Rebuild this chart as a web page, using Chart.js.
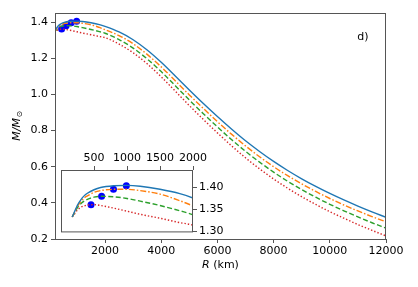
<!DOCTYPE html>
<html>
<head>
<meta charset="utf-8">
<script src="https://cdn.jsdelivr.net/npm/chart.js@4.4.1/dist/chart.umd.min.js"></script>
<style>
  html, body { margin: 0; padding: 0; background: #fff; }
  #wrap { position: relative; width: 418px; height: 287px; }
  #main { position: absolute; left: 0; top: 0; }
  #inset { position: absolute; left: 40px; top: 145px; }
</style>
</head>
<body>
<div id="wrap">
  <canvas id="main" width="418" height="287"></canvas>
  <canvas id="inset" width="200" height="95"></canvas>
</div>
<script>
// radius in km
const radius = [170, 200, 250, 300, 350, 400, 500, 600, 800, 1000, 1200, 1500, 1800, 2000,
  2500, 3000, 3500, 4000, 4500, 5000, 5500, 6000, 6500, 7000, 7500, 8000, 8500, 9000,
  9500, 10000, 10500, 11000, 11500, 12000];

// mass in solar masses, one list per curve
const massSolid = [1.333, 1.343, 1.360, 1.372, 1.381, 1.387, 1.395, 1.400, 1.404, 1.405, 1.403, 1.396, 1.386, 1.376,
  1.345, 1.302, 1.245, 1.177, 1.101, 1.024, 0.949, 0.877, 0.808, 0.743, 0.684, 0.629, 0.579, 0.533,
  0.491, 0.452, 0.416, 0.382, 0.350, 0.320];
const massDashDot = [1.333, 1.342, 1.357, 1.368, 1.376, 1.381, 1.389, 1.393, 1.396, 1.396, 1.393, 1.385, 1.370, 1.358,
  1.325, 1.280, 1.221, 1.152, 1.075, 0.997, 0.922, 0.849, 0.780, 0.715, 0.655, 0.600, 0.550, 0.505,
  0.463, 0.424, 0.388, 0.355, 0.324, 0.295];
const massDashed = [1.333, 1.341, 1.354, 1.363, 1.369, 1.373, 1.378, 1.380, 1.379, 1.375, 1.369, 1.359, 1.347, 1.338,
  1.303, 1.256, 1.196, 1.126, 1.048, 0.969, 0.893, 0.820, 0.750, 0.685, 0.625, 0.570, 0.519, 0.473,
  0.431, 0.392, 0.356, 0.322, 0.290, 0.260];
const massDotted = [1.333, 1.339, 1.349, 1.355, 1.358, 1.360, 1.361, 1.359, 1.353, 1.346, 1.339, 1.330, 1.320, 1.314,
  1.278, 1.230, 1.169, 1.097, 1.018, 0.938, 0.861, 0.787, 0.716, 0.649, 0.588, 0.532, 0.481, 0.434,
  0.391, 0.351, 0.315, 0.280, 0.248, 0.217];

// maximum-mass markers
const peakRadius = [455, 615, 795, 990];
const peakMass = [1.361, 1.380, 1.396, 1.404];

const mainXTicks = [2000, 4000, 6000, 8000, 10000, 12000];
const mainYTicks = [0.2, 0.4, 0.6, 0.8, 1.0, 1.2, 1.4];
const insetXTicks = [500, 1000, 1500, 2000];
const insetYTicks = [1.30, 1.35, 1.40];

Chart.defaults.font.family = "'DejaVu Sans', sans-serif";
Chart.defaults.font.size = 11;
Chart.defaults.color = '#000';

const frameColor = '#555';

function pts(ys) {
  return radius.map((r, i) => ({ x: r, y: ys[i] }));
}

function makeDatasets(dotRadius) {
  return [
    { data: pts(massSolid), borderColor: '#1f77b4', borderWidth: 1.4 },
    { data: pts(massDashDot), borderColor: '#ff7f0e', borderWidth: 1.4, borderDash: [6, 2, 1.5, 2] },
    { data: pts(massDashed), borderColor: '#2ca02c', borderWidth: 1.4, borderDash: [5, 2.5] },
    { data: pts(massDotted), borderColor: '#d62728', borderWidth: 1.4, borderDash: [1.4, 2] },
    {
      data: peakRadius.map((r, i) => ({ x: r, y: peakMass[i] })),
      showLine: false, pointRadius: dotRadius, pointBackgroundColor: '#0000ff',
      pointBorderWidth: 0, borderColor: '#0000ff', clip: false
    }
  ].map(d => Object.assign({
    type: 'line', pointRadius: 0, fill: false,
    cubicInterpolationMode: 'monotone', clip: 0
  }, d));
}

function fixedTicks(list) {
  return function(scale) { scale.ticks = list.map(v => ({ value: v })); };
}

// box around plot area, white background for the inset
const framePlugin = {
  id: 'frame',
  beforeDraw(chart, args, opts) {
    if (opts.fillWhite) {
      const a = chart.chartArea;
      chart.ctx.save();
      chart.ctx.fillStyle = '#fff';
      chart.ctx.fillRect(a.left, a.top, a.right - a.left, a.bottom - a.top);
      chart.ctx.restore();
    }
  },
  afterDraw(chart) {
    const a = chart.chartArea, ctx = chart.ctx;
    ctx.save();
    ctx.strokeStyle = frameColor;
    ctx.lineWidth = 1;
    ctx.strokeRect(a.left + 0.5, a.top + 0.5, a.right - a.left - 1, a.bottom - a.top);
    ctx.restore();
  }
};

// axis titles with italic symbols, plus panel label
const labelPlugin = {
  id: 'labels',
  afterDraw(chart) {
    const ctx = chart.ctx, a = chart.chartArea;
    ctx.save();
    ctx.fillStyle = '#000';
    ctx.textBaseline = 'middle';
    // x title
    ctx.font = "italic 11px 'DejaVu Sans'";
    const wR = ctx.measureText('R').width;
    ctx.font = "11px 'DejaVu Sans'";
    const wKm = ctx.measureText(' (km)').width;
    let x0 = (a.left + a.right) / 2 - (wR + wKm) / 2;
    ctx.textAlign = 'left';
    ctx.font = "italic 11px 'DejaVu Sans'";
    ctx.fillText('R', x0, 265);
    ctx.font = "11px 'DejaVu Sans'";
    ctx.fillText(' (km)', x0 + wR, 265);
    // y title
    ctx.translate(17, (a.top + a.bottom) / 2);
    ctx.rotate(-Math.PI / 2);
    ctx.font = "italic 11px 'DejaVu Sans'";
    const wM = ctx.measureText('M/M').width;
    ctx.font = "8px 'DejaVu Sans'";
    const wSun = ctx.measureText('\u2299').width;
    x0 = -(wM + wSun) / 2;
    ctx.font = "italic 11px 'DejaVu Sans'";
    ctx.fillText('M/M', x0, 0);
    ctx.font = "8px 'DejaVu Sans'";
    ctx.fillText('\u2299', x0 + wM + 0.5, 3);
    ctx.restore();
    // panel label
    ctx.save();
    ctx.font = "11px 'DejaVu Sans'";
    ctx.textAlign = 'center';
    ctx.textBaseline = 'middle';
    ctx.fillStyle = '#000';
    ctx.fillText('d)', 363, 37);
    ctx.restore();
  }
};

const tickGrid = { drawOnChartArea: false, drawTicks: true, tickLength: 4, color: frameColor };

new Chart(document.getElementById('main'), {
  type: 'line',
  data: { datasets: makeDatasets(3.5) },
  options: {
    responsive: false,
    animation: false,
    events: [],
    layout: { padding: { left: 0, right: 32, top: 13, bottom: 0 } },
    plugins: { legend: { display: false }, tooltip: { enabled: false }, frame: { fillWhite: false } },
    scales: {
      x: {
        type: 'linear', min: 220, max: 12000,
        afterBuildTicks: fixedTicks(mainXTicks),
        afterFit(s) { s.height = 48; },
        grid: tickGrid, border: { display: false },
        ticks: { padding: 2, maxRotation: 0, callback: v => String(v) }
      },
      y: {
        type: 'linear', min: 0.2, max: 1.45,
        afterBuildTicks: fixedTicks(mainYTicks),
        afterFit(s) { s.width = 55; },
        grid: tickGrid, border: { display: false },
        ticks: { padding: 3, callback: v => v.toFixed(1) }
      }
    }
  },
  plugins: [framePlugin, labelPlugin]
});

new Chart(document.getElementById('inset'), {
  type: 'line',
  data: { datasets: makeDatasets(3.5) },
  options: {
    responsive: false,
    animation: false,
    events: [],
    layout: { padding: { left: 21, right: 0, top: 0, bottom: 8 } },
    plugins: { legend: { display: false }, tooltip: { enabled: false }, frame: { fillWhite: true } },
    scales: {
      x: {
        type: 'linear', position: 'top', min: 0, max: 2000,
        afterBuildTicks: fixedTicks(insetXTicks),
        afterFit(s) { s.height = 25; },
        grid: tickGrid, border: { display: false },
        ticks: { padding: 1, maxRotation: 0, callback: v => String(v) }
      },
      y: {
        type: 'linear', position: 'right', min: 1.30, max: 1.44,
        afterBuildTicks: fixedTicks(insetYTicks),
        afterFit(s) { s.width = 47; },
        grid: tickGrid, border: { display: false },
        ticks: { padding: 2, callback: v => v.toFixed(2) }
      }
    }
  },
  plugins: [framePlugin]
});
</script>
</body>
</html>
